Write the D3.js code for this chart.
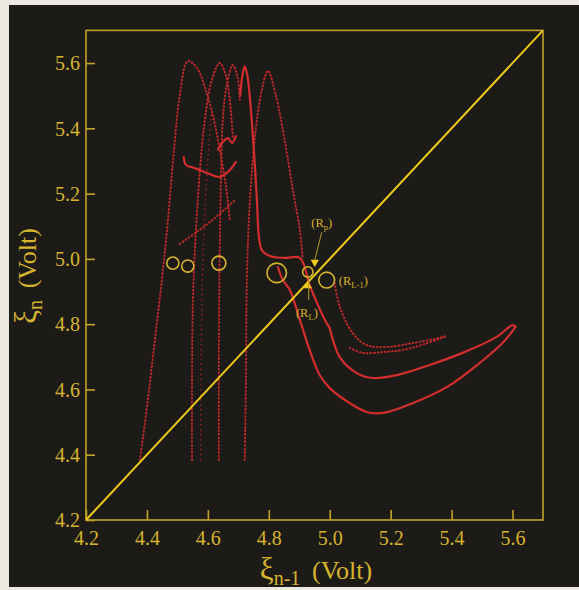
<!DOCTYPE html>
<html>
<head>
<meta charset="utf-8">
<script src="https://cdn.jsdelivr.net/npm/d3@7"></script>
<style>
  html, body { margin: 0; padding: 0; background: #ece8e2; }
  svg { display: block; }
  text { font-family: "Liberation Serif", "DejaVu Serif", serif; }
</style>
</head>
<body>
<div id="chart"></div>
<script>
// tick values (Volt)
var xTicks = [4.2, 4.4, 4.6, 4.8, 5.0, 5.2, 5.4, 5.6];
var yTicks = [4.2, 4.4, 4.6, 4.8, 5.0, 5.2, 5.4, 5.6];

// return map branches, [xi(n-1), xi(n)]
var hump1 = [[4.377,4.384],[4.403,4.568],[4.426,4.751],[4.449,4.935],[4.469,5.119],[4.489,5.334],[4.508,5.502],[4.534,5.606],[4.564,5.585],[4.593,5.517],[4.620,5.425],[4.639,5.334],[4.659,5.226],[4.672,5.119]];
var hump2 = [[4.548,4.384],[4.548,4.629],[4.551,4.874],[4.561,5.088],[4.574,5.272],[4.590,5.425],[4.613,5.548],[4.639,5.600],[4.659,5.563],[4.672,5.487],[4.682,5.370]];
var hump3 = [[4.636,4.384],[4.636,4.721],[4.639,5.027],[4.643,5.242],[4.649,5.425],[4.662,5.533],[4.682,5.594],[4.698,5.554],[4.705,5.487]];
var hump4 = [[4.706,5.500],[4.713,5.560],[4.721,5.590],[4.730,5.560],[4.740,5.470],[4.751,5.334],[4.761,5.180],[4.767,5.073],[4.777,5.027],[4.803,5.009],[4.852,5.003],[4.902,5.003],[4.934,4.920],[4.961,4.859],[4.984,4.813],[5.000,4.788]];
var hump5 = [[4.721,4.384],[4.725,4.629],[4.728,4.935],[4.738,5.180],[4.757,5.395],[4.777,5.517],[4.797,5.576],[4.823,5.502],[4.852,5.364],[4.879,5.211],[4.902,5.088],[4.911,5.003]];
var faint = [[4.576,4.384],[4.578,4.700],[4.584,5.000],[4.596,5.250],[4.612,5.450]];
var middle = [[5.000,4.788],[5.033,4.699],[5.089,4.650],[5.141,4.635],[5.220,4.644],[5.328,4.675],[5.436,4.712],[5.548,4.761],[5.600,4.797],[5.610,4.792]];
var outer = [[5.610,4.792],[5.567,4.742],[5.492,4.681],[5.384,4.607],[5.272,4.558],[5.174,4.528],[5.121,4.531],[5.066,4.558],[5.000,4.604],[4.967,4.644],[4.934,4.721],[4.902,4.813],[4.869,4.905],[4.846,4.935],[4.830,4.975]];
var inner1 = [[5.016,4.926],[5.033,4.853],[5.075,4.773],[5.121,4.736],[5.187,4.730],[5.272,4.742],[5.361,4.758],[5.384,4.764]];
var inner2 = [[5.066,4.727],[5.108,4.712],[5.180,4.715],[5.239,4.721],[5.311,4.739],[5.384,4.764]];
var hook = [[4.521,5.312],[4.528,5.288],[4.557,5.278],[4.597,5.263],[4.639,5.251],[4.672,5.272],[4.692,5.297]];
var notch = [[4.633,5.334],[4.649,5.358],[4.666,5.370],[4.679,5.355],[4.692,5.376]];
var slant = [[4.508,5.046],[4.607,5.113],[4.689,5.180]];

// marked points (circles) and their radius in Volt
var circleX = [4.485, 4.534, 4.636, 4.826, 4.928, 4.990];
var circleY = [4.987, 4.978, 4.987, 4.957, 4.960, 4.935];
var circleR = [0.020, 0.020, 0.023, 0.032, 0.017, 0.026];

var W = 579, H = 590;
var svg = d3.select("#chart").append("svg")
  .attr("width", W)
  .attr("height", H);

svg.append("rect")
  .attr("x", 9).attr("y", 5)
  .attr("width", W - 9).attr("height", 582)
  .style("fill", "#1d1b18");

var x = d3.scaleLinear().domain([4.2, 5.7]).range([86, 543]);
var y = d3.scaleLinear().domain([4.2, 5.7]).range([520, 30.4]);

var gold = "#d6b42e";

// frame
svg.append("rect")
  .attr("x", x(4.2)).attr("y", y(5.7))
  .attr("width", x(5.7) - x(4.2)).attr("height", y(4.2) - y(5.7))
  .style("fill", "none")
  .style("stroke", "#c4a22a")
  .style("stroke-width", 1.6);

var xAxis = svg.append("g")
  .attr("transform", "translate(0," + y(4.2) + ")")
  .call(d3.axisBottom(x).tickValues(xTicks).tickFormat(d3.format(".1f"))
    .tickSizeInner(-10).tickSizeOuter(0).tickPadding(11));
var yAxis = svg.append("g")
  .attr("transform", "translate(" + x(4.2) + ",0)")
  .call(d3.axisLeft(y).tickValues(yTicks).tickFormat(d3.format(".1f"))
    .tickSizeInner(-9).tickSizeOuter(0).tickPadding(6));

[xAxis, yAxis].forEach(function(g) {
  g.select(".domain").remove();
  g.selectAll("line").style("stroke", "#c4a22a").style("stroke-width", 1.6);
  g.selectAll("text")
    .style("fill", gold)
    .style("font-size", "20px")
    .style("font-family", "Liberation Serif, serif");
});
yAxis.selectAll("text").attr("dy", "0.34em");

// clip to the plot
svg.append("clipPath").attr("id", "plot")
  .append("rect")
  .attr("x", x(4.2)).attr("y", y(5.7))
  .attr("width", x(5.7) - x(4.2)).attr("height", y(4.2) - y(5.7));

var g = svg.append("g").attr("clip-path", "url(#plot)");

var line = d3.line()
  .x(function(d) { return x(d[0]); })
  .y(function(d) { return y(d[1]); })
  .curve(d3.curveCatmullRom.alpha(0.5));

var dotted = [hump1, hump2, hump3, hump5, inner1, inner2, slant];
var solid = [hump4, middle, outer, hook, notch];

g.append("path")
  .attr("d", line(faint))
  .style("fill", "none")
  .style("stroke", "#8e2224")
  .style("stroke-width", 1.5)
  .style("stroke-linecap", "round")
  .style("stroke-dasharray", "0.5 4.5");

g.selectAll("path.dots").data(dotted)
  .enter().append("path")
  .attr("class", "dots")
  .attr("d", line)
  .style("fill", "none")
  .style("stroke", "#bb292b")
  .style("stroke-width", 2)
  .style("stroke-linecap", "round")
  .style("stroke-dasharray", "0.8 2.8");

g.selectAll("path.solid").data(solid)
  .enter().append("path")
  .attr("class", "solid")
  .attr("d", line)
  .style("fill", "none")
  .style("stroke", "#d22e2e")
  .style("stroke-width", 2.2)
  .style("stroke-linecap", "round");

// diagonal xi(n) = xi(n-1)
g.append("line")
  .attr("x1", x(4.2)).attr("y1", y(4.2))
  .attr("x2", x(5.7)).attr("y2", y(5.7))
  .style("stroke", "#f0cc1c")
  .style("stroke-width", 2);

g.selectAll("circle.mark").data(circleX)
  .enter().append("circle")
  .attr("class", "mark")
  .attr("cx", function(d) { return x(d); })
  .attr("cy", function(d, i) { return y(circleY[i]); })
  .attr("r", function(d, i) { return x(4.2 + circleR[i]) - x(4.2); })
  .style("fill", "none")
  .style("stroke", gold)
  .style("stroke-width", 1.6);

// arrows at the fixed point
var tri = d3.symbol().type(d3.symbolTriangle).size(30);
g.append("path").attr("d", tri)
  .attr("transform", "translate(" + x(4.951) + "," + y(4.990) + ") rotate(180)")
  .style("fill", "#f0cc1c");
g.append("path").attr("d", tri)
  .attr("transform", "translate(" + x(4.928) + "," + y(4.917) + ")")
  .style("fill", "#f0cc1c");

// leader lines
g.append("line")
  .attr("x1", x(4.974)).attr("y1", y(5.082))
  .attr("x2", x(4.951)).attr("y2", y(4.997))
  .style("stroke", "#b89a28").style("stroke-width", 1);
g.append("line")
  .attr("x1", x(4.931)).attr("y1", y(4.874))
  .attr("x2", x(4.931)).attr("y2", y(4.940))
  .style("stroke", "#b89a28").style("stroke-width", 1);

function label(px, py, sub, anchor) {
  var t = svg.append("text")
    .attr("x", px).attr("y", py)
    .attr("text-anchor", anchor)
    .style("fill", gold)
    .style("font-size", "12.5px");
  t.append("tspan").text("(R");
  t.append("tspan").attr("dy", 3).style("font-size", "8.5px").text(sub);
  t.append("tspan").attr("dy", -3).text(")");
}
label(x(4.974), y(5.110) + 4, "p", "middle");
label(x(5.030), y(4.932) + 4, "L-1", "start");
label(x(4.925), y(4.837) + 5, "L", "middle");

// axis titles
var xt = svg.append("text")
  .attr("x", 316).attr("y", 579)
  .attr("text-anchor", "middle")
  .style("fill", gold)
  .style("font-size", "26px");
xt.append("tspan").style("font-size", "31px").text("\u03BE");
xt.append("tspan").attr("dy", 6).style("font-size", "20px").text("n-1");
xt.append("tspan").attr("dy", -6).text("\u2009 (Volt)");

var yt = svg.append("text")
  .attr("transform", "translate(36,276) rotate(-90)")
  .attr("text-anchor", "middle")
  .style("fill", gold)
  .style("font-size", "26px");
yt.append("tspan").style("font-size", "31px").text("\u03BE");
yt.append("tspan").attr("dy", 6).style("font-size", "20px").text("n");
yt.append("tspan").attr("dy", -6).text("\u2009 (Volt)");
</script>
</body>
</html>
